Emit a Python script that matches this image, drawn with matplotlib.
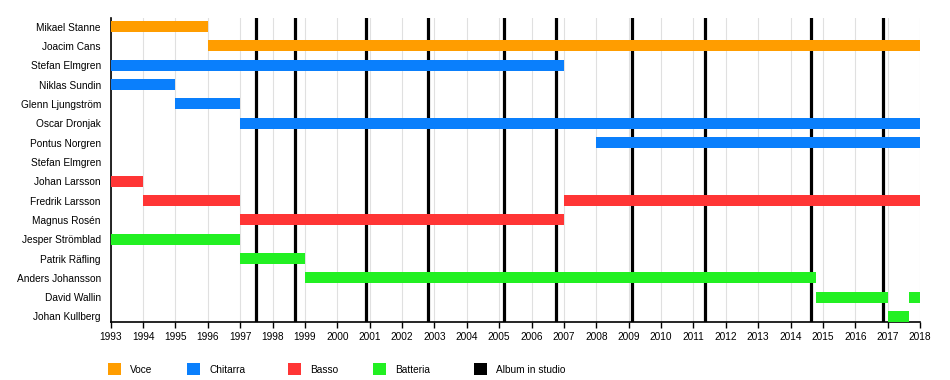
import matplotlib

matplotlib.use("Agg")
import matplotlib.pyplot as plt
from matplotlib.patches import Rectangle

plt.rcParams["font.family"] = ["Liberation Sans", "DejaVu Sans"]

# members, top to bottom
members = [
    "Mikael Stanne", "Joacim Cans", "Stefan Elmgren", "Niklas Sundin",
    "Glenn Ljungström", "Oscar Dronjak", "Pontus Norgren", "Stefan Elmgren",
    "Johan Larsson", "Fredrik Larsson", "Magnus Rosén", "Jesper Strömblad",
    "Patrik Räfling", "Anders Johansson", "David Wallin", "Johan Kullberg",
]

# (row, start, end, role)
periods = [
    (0, 1993.0, 1996.0, "Voce"),
    (1, 1996.0, 2018.0, "Voce"),
    (2, 1993.0, 2007.0, "Chitarra"),
    (3, 1993.0, 1995.0, "Chitarra"),
    (4, 1995.0, 1997.0, "Chitarra"),
    (5, 1997.0, 2018.0, "Chitarra"),
    (6, 2008.0, 2018.0, "Chitarra"),
    (8, 1993.0, 1994.0, "Basso"),
    (9, 1994.0, 1997.0, "Basso"),
    (9, 2007.0, 2018.0, "Basso"),
    (10, 1997.0, 2007.0, "Basso"),
    (11, 1993.0, 1997.0, "Batteria"),
    (12, 1997.0, 1999.0, "Batteria"),
    (13, 1999.0, 2014.78, "Batteria"),
    (14, 2014.78, 2017.0, "Batteria"),
    (14, 2017.67, 2018.0, "Batteria"),
    (15, 2017.0, 2017.67, "Batteria"),
]

albums = [1997.48, 1998.69, 2000.88, 2002.80, 2005.14, 2006.75,
          2009.11, 2011.37, 2014.64, 2016.85]

years = list(range(1993, 2019))

role_colors = {
    "Voce": "#ff9d00",
    "Chitarra": "#0a7ffc",
    "Basso": "#ff3535",
    "Batteria": "#22f022",
    "Album in studio": "#000000",
}

fig = plt.figure(figsize=(9.5, 3.8), dpi=100)
ax = fig.add_axes([110.7 / 950, 58 / 380, (920 - 110.7) / 950, (322 - 18) / 380])

bar_h = 0.57
for row, start, end, role in periods:
    ax.barh(row, end - start, left=start, height=bar_h,
            color=role_colors[role], zorder=3, linewidth=0)

for x in albums:
    ax.axvline(x, color="black", lw=2.3, zorder=2)

ax.set_xlim(1993, 2018)
ax.set_ylim(15 + bar_h / 2, 15 + bar_h / 2 - 15.73)

ax.set_xticks(years)
ax.set_xticklabels([str(y) for y in years], fontsize=7.3)
ax.set_yticks(range(len(members)))
ax.set_yticklabels(members, fontsize=7.3)
ax.tick_params(axis="y", length=0, pad=7)
ax.tick_params(axis="x", length=4, width=1, pad=3.5, color="black")

ax.grid(axis="x", color="#e0e0e0", lw=0.8, zorder=0)
ax.set_axisbelow(True)
for side in ("top", "right"):
    ax.spines[side].set_visible(False)
for side in ("left", "bottom"):
    ax.spines[side].set_linewidth(1.2)

# legend along the bottom
legend_x = [108, 187, 288, 373, 474]
for x, (label, color) in zip(legend_x, role_colors.items()):
    fig.add_artist(Rectangle((x / 950, (380 - 375) / 380), 13 / 950, 12 / 380,
                             transform=fig.transFigure, color=color, lw=0))
    fig.text((x + 22) / 950, (380 - 370) / 380, label, fontsize=7.3,
             va="center", ha="left")

fig.savefig("out.png", dpi=100)
